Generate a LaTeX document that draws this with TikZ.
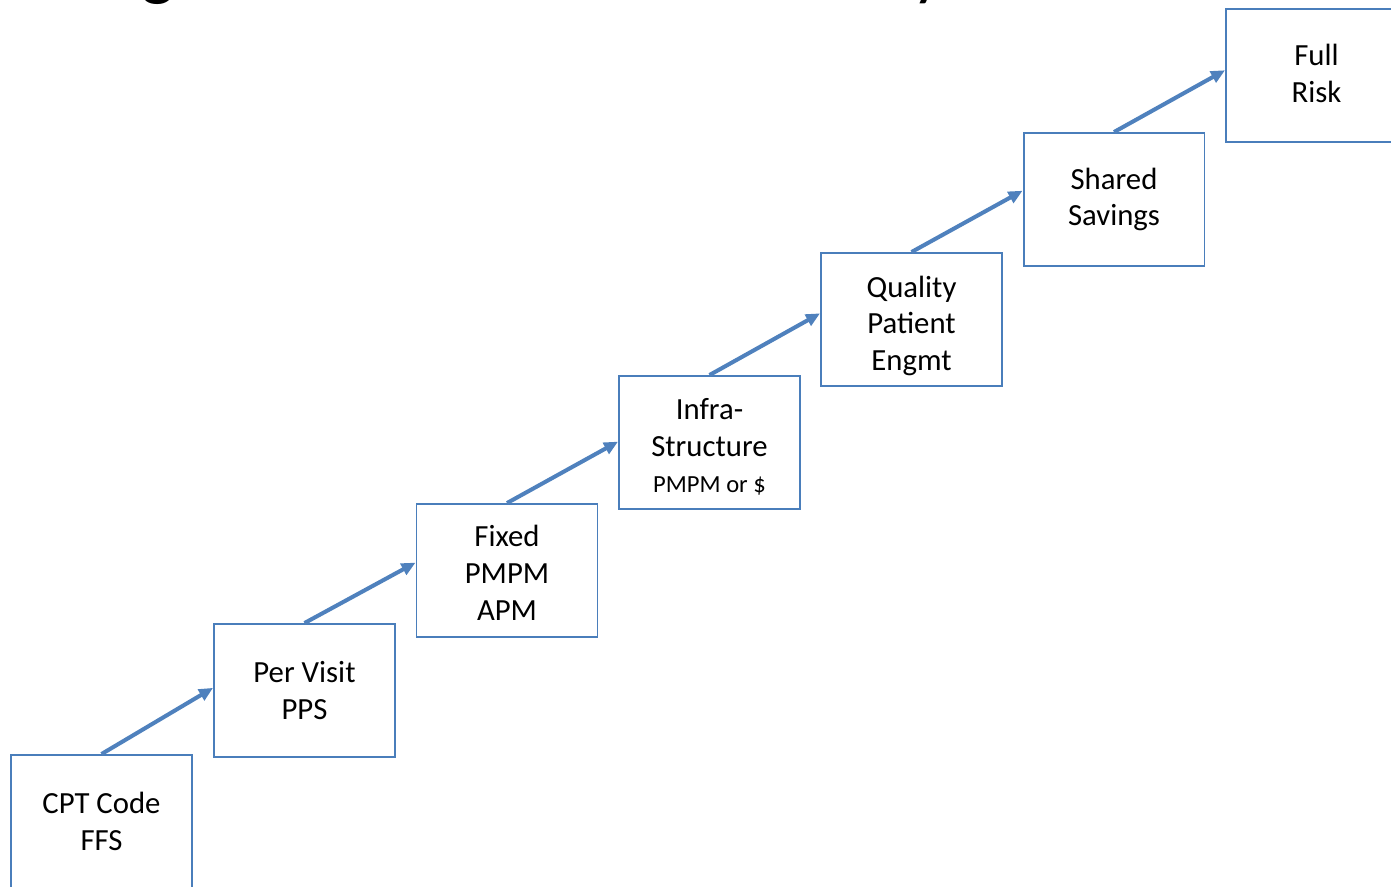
\documentclass[tikz,border=0pt]{standalone}
\usepackage{fontspec}
\setmainfont{Carlito}
\usetikzlibrary{arrows.meta}
\definecolor{stepblue}{HTML}{4A7EBB}
\definecolor{arrowblue}{HTML}{4F81BD}
% vertical strut used to nudge a box's lines down
\newcommand{\liftpad}[1]{\rule{0pt}{#1}}
\begin{document}
\begin{tikzpicture}[x=0.02cm,y=-0.02cm,
  stepbox/.style={draw=stepblue,line width=1.1pt,fill=white,
    minimum width=3.62cm,minimum height=2.66cm,align=center,
    inner sep=0pt,font=\fontsize{17.5}{21}\selectfont},
  stepline/.style={draw=arrowblue,line width=2.3pt,
    -{Triangle[length=8pt,width=7pt]}},
  titlefrag/.style={font=\fontsize{40}{48}\selectfont,anchor=base,inner sep=0pt}]
\useasboundingbox (0,0) rectangle (1391,886);
\clip (0,0) rectangle (1391,886);
% heading above the staircase, mostly outside the frame
\node[titlefrag] (tg) at (158,-8) {g};
\node[titlefrag] (ty) at (928,-8) {y};
% the payment steps
\node[stepbox] (s1) at (101.5,821.5) {CPT Code\\FFS};
\node[stepbox] (s2) at (304.5,690.5) {Per Visit\\PPS};
\node[stepbox] (s3) at (507,570.5) {\liftpad{14.5pt}Fixed\\PMPM\\APM};
\node[stepbox] (s4) at (709.5,442.5) {\liftpad{17pt}Infra-\\Structure\\{\fontsize{14}{17}\selectfont PMPM or \$}};
\node[stepbox] (s5) at (911.5,319.5) {\liftpad{19.5pt}Quality\\Patient\\Engmt};
\node[stepbox] (s6) at (1114,199.5) {Shared\\Savings};
\node[stepbox] (s7) at (1316.5,75.5) {Full\\Risk\rule[-2.3pt]{0pt}{0pt}};
% connectors from each step to the next
\draw[stepline] (s1.north) -- ([yshift=1.5pt]s2.west);
\draw[stepline] (s2.north) -- ([yshift=4.5pt]s3.west);
\draw[stepline] (s3.north) -- ([yshift=0.5pt]s4.west);
\draw[stepline] (s4.north) -- ([yshift=3.5pt]s5.west);
\draw[stepline] (s5.north) -- ([yshift=5pt]s6.west);
\draw[stepline] (s6.north) -- ([yshift=3pt]s7.west);
\end{tikzpicture}
\end{document}
